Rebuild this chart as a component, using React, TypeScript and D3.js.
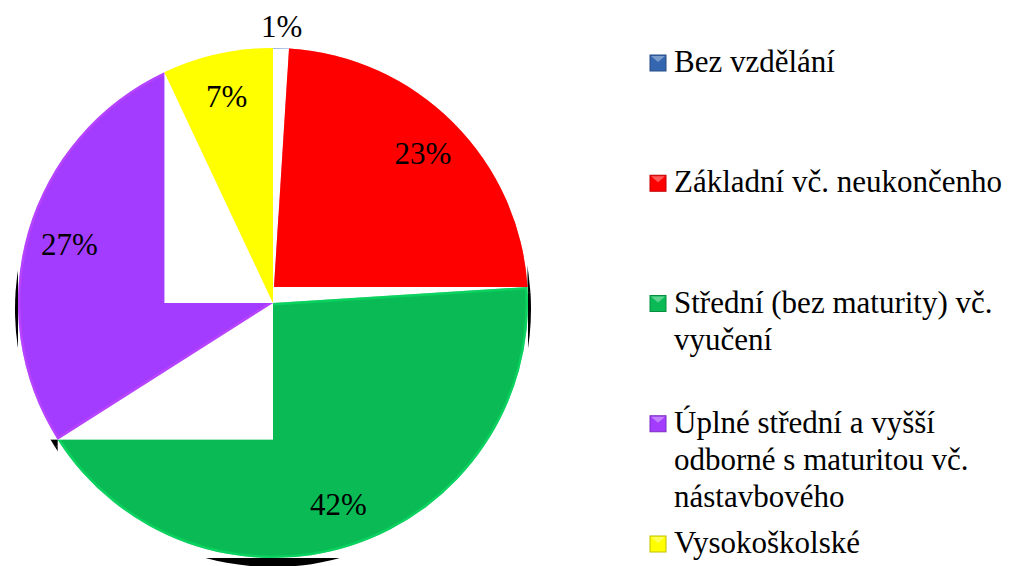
import * as d3 from "d3";

// education levels and their shares (%)
const categories = [
  "Bez vzdělání",
  "Základní vč. neukončenho",
  "Střední (bez maturity) vč. vyučení",
  "Úplné střední a vyšší odborné s maturitou vč. nástavbového",
  "Vysokoškolské",
];
const values = [1, 23, 42, 27, 7];
const colors = ["#3467b0", "#ff0000", "#0abb55", "#a33cff", "#ffff00"];

// legend text as it wraps in the original
const legendLines = [
  ["Bez vzdělání"],
  ["Základní vč. neukončenho"],
  ["Střední (bez maturity) vč.", "vyučení"],
  ["Úplné střední a vyšší", "odborné s maturitou vč.", "nástavbového"],
  ["Vysokoškolské"],
];

const width = 1014;
const height = 566;
const cx = 273;
const cy = 303;
const radius = 255;
const font = "'Times New Roman', Tinos, 'Liberation Serif', 'DejaVu Serif', serif";

// rectangle around a slice (center point included)
function sliceBox(a0: number, a1: number, r: number) {
  const pts: [number, number][] = [
    [0, 0],
    [Math.sin(a0) * r, -Math.cos(a0) * r],
    [Math.sin(a1) * r, -Math.cos(a1) * r],
  ];
  for (let k = 0; k <= 4; k++) {
    const a = (k * Math.PI) / 2;
    if (a >= a0 && a <= a1) pts.push([Math.sin(a) * r, -Math.cos(a) * r]);
  }
  const xs = pts.map((p) => p[0]);
  const ys = pts.map((p) => p[1]);
  return { x0: d3.min(xs)!, x1: d3.max(xs)!, y0: d3.min(ys)!, y1: d3.max(ys)! };
}

const App = () => {
  const slices = d3
    .pie<number>()
    .sort(null)
    .value((d) => d)(values);

  const arc = d3.arc<d3.PieArcDatum<number>>().innerRadius(0).outerRadius(radius);
  const shadowArc = d3.arc<d3.PieArcDatum<number>>().innerRadius(0).outerRadius(radius + 3);
  const labelArc = d3.arc<d3.PieArcDatum<number>>().innerRadius(212).outerRadius(212);
  const outerLabelArc = d3.arc<d3.PieArcDatum<number>>().innerRadius(radius + 22).outerRadius(radius + 22);

  const legendY = d3.scaleLinear().domain([0, categories.length - 1]).range([72, 553]);

  return (
    <svg
      width={width}
      height={height}
      style={{ position: "absolute", left: 0, top: 0, background: "#fff", fontFamily: font }}
    >
      <defs>
        {slices.map((s, i) => (
          <clipPath id={`clip${i}`} key={i}>
            <path d={arc(s)!} />
          </clipPath>
        ))}
      </defs>

      {/* drop shadow */}
      <g transform={`translate(${cx},${cy + 6})`}>
        {slices.map((s, i) => (
          <path key={i} d={shadowArc(s)!} fill="#000" />
        ))}
      </g>

      {/* slices, each painted over a white box */}
      <g transform={`translate(${cx},${cy})`}>
        {slices.map((s, i) => {
          const b = sliceBox(s.startAngle, s.endAngle, radius);
          return (
            <g key={i}>
              <rect x={b.x0} y={b.y0} width={b.x1 - b.x0} height={b.y1 - b.y0} fill="#fff" />
              <path d={arc(s)!} fill={colors[i]} />
              <g clipPath={`url(#clip${i})`}>
                <path
                  d={arc(s)!}
                  fill="none"
                  stroke={d3.color(colors[i])!.brighter(0.6).formatHex()}
                  strokeOpacity={0.5}
                  strokeWidth={5}
                />
              </g>
            </g>
          );
        })}

        {slices.map((s, i) => {
          const [lx, ly] = s.data < 3 ? outerLabelArc.centroid(s) : labelArc.centroid(s);
          return (
            <text key={i} x={lx} y={ly} dy="0.35em" textAnchor="middle" fontSize={31} fill="#000">
              {`${s.data}%`}
            </text>
          );
        })}
      </g>

      {/* legend */}
      <g>
        {legendLines.map((lines, i) => (
          <g key={i} transform={`translate(650,${legendY(i)})`}>
            <rect
              x={0}
              y={-17}
              width={16}
              height={16}
              fill={colors[i]}
              stroke={d3.color(colors[i])!.darker(0.8).formatHex()}
              strokeWidth={1}
            />
            <path d="M1,-16 L15,-16 L8,-10 Z" fill="#fff" fillOpacity={0.35} />
            {lines.map((t, j) => (
              <text key={j} x={24} y={j * 37} fontSize={31} fill="#000">
                {t}
              </text>
            ))}
          </g>
        ))}
      </g>
    </svg>
  );
};

export default App;
